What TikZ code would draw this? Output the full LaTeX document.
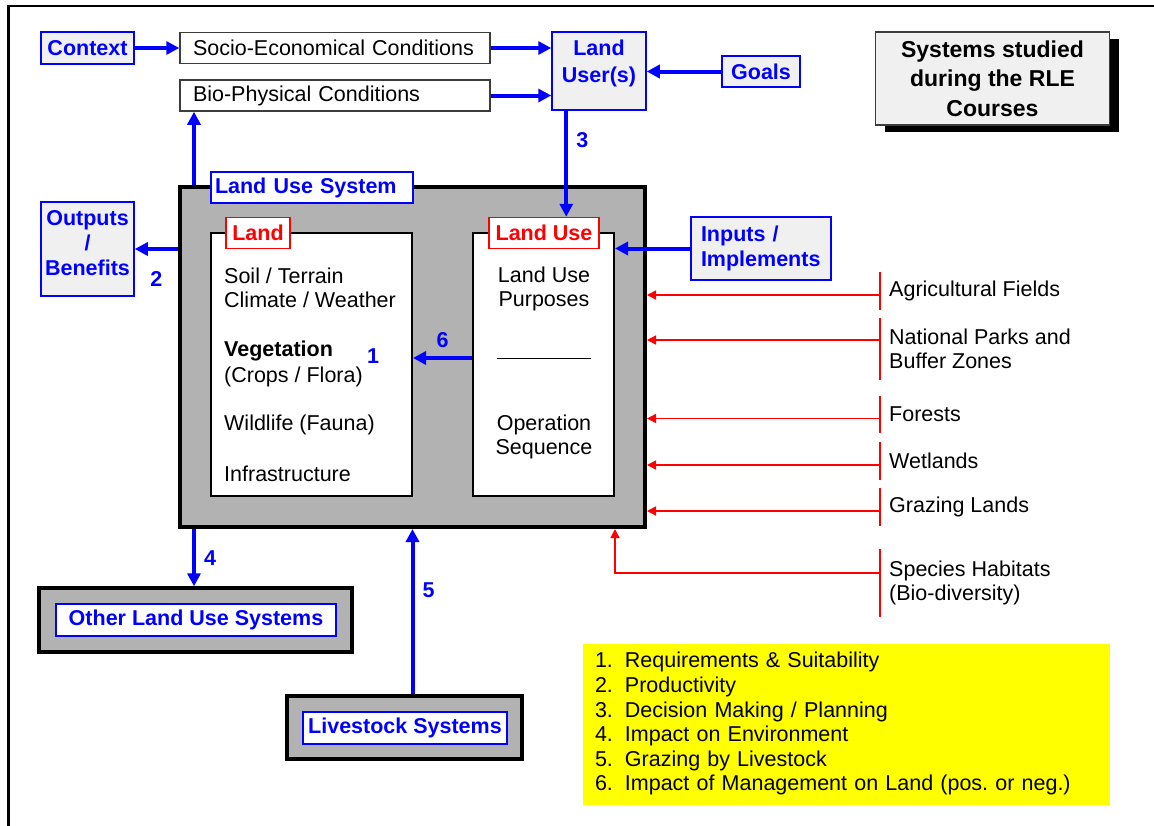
\documentclass[tikz,border=0pt]{standalone}
\usepackage{fontspec}
\setmainfont{Liberation Sans}
\usetikzlibrary{arrows.meta,positioning,shadows}
\definecolor{blue}{RGB}{0,0,255}
\definecolor{red}{RGB}{255,0,0}
\definecolor{yellow}{RGB}{255,255,0}
\definecolor{panel}{RGB}{240,240,240}
\definecolor{lusgray}{RGB}{178,178,178}
\definecolor{edgegray}{RGB}{60,60,60}

\begin{document}
\begin{tikzpicture}[x=1pt, y=-1pt, every node/.style={font=\fontsize{21.5}{24}\selectfont, inner sep=0pt},
  bluebox/.style={draw=blue, fill=panel, line width=1.5pt, text=blue, align=center, font=\fontsize{21.5}{25}\selectfont\bfseries},
  condbox/.style={draw=edgegray, fill=white, line width=1.5pt, minimum height=31pt, text width=284pt, inner xsep=13pt, align=left},
  sysbox/.style={draw=edgegray, fill=panel, line width=1.5pt, minimum width=234pt, minimum height=93pt, align=center, font=\fontsize{23}{29.5}\selectfont\bfseries, drop shadow={shadow xshift=9pt, shadow yshift=-7pt, fill=black, opacity=1}},
  lusframe/.style={draw=black, fill=lusgray, line width=4pt},
  whitebox/.style={draw=black, fill=white, line width=2pt},
  bluetag/.style={draw=blue, fill=white, line width=1.5pt, minimum height=32pt, text=blue, font=\fontsize{21.5}{24}\selectfont\bfseries},
  redtag/.style={draw=red, fill=white, line width=1.5pt, minimum height=31pt, text=red, font=\fontsize{21.5}{24}\selectfont\bfseries},
  num/.style={text=blue, font=\fontsize{21.5}{24}\selectfont\bfseries},
  cat/.style={anchor=west, align=left, inner xsep=9pt},
  bluearrow/.style={draw=blue, line width=4pt, -{Triangle[length=13pt, width=13pt]}},
  redarrow/.style={draw=red, line width=1.4pt, -{Triangle[length=9pt, width=9pt]}},
  redline/.style={draw=red, line width=1.4pt}]
\useasboundingbox (0,0) rectangle (1154,825);
% slide border
\draw[line width=2.5pt] (8.5,840) -- (8.5,6) -- (1170,6);

% top row
\node[bluebox, minimum width=93pt, minimum height=32pt] (context) at (87.5,48) {Context};
\node[condbox] (socio) at (335,48) {Socio-Economical Conditions};
\node[condbox] (bio) [below=15pt of socio] {Bio-Physical Conditions};
\node[bluebox, minimum width=94pt, minimum height=78pt, font=\fontsize{21.5}{27}\selectfont\bfseries] (user) at (599,71) {\begin{tabular}{@{}c@{}}Land\\User(s)\\[14pt]\end{tabular}};
\node[bluebox, minimum width=78pt, minimum height=31pt] (goals) at (761,71.5) {Goals};
\node[sysbox] (systems) at (992.5,78.5) {Systems studied\\during the RLE\\Courses};

% land use system
\node[lusframe, minimum width=465pt, minimum height=340pt] (lus) at (412.5,357) {};
\node[bluetag, text width=194pt, inner xsep=4pt, minimum height=31pt, align=left] (lustag) at (312,187.5) {Land Use System};
\node[bluebox, minimum width=93pt, minimum height=94pt] (outputs) at (87.5,249) {\begin{tabular}{@{}c@{}}Outputs\\/\\Benefits\\[8pt]\end{tabular}};
\node[bluebox, minimum width=140pt, minimum height=63pt, text width=120pt, align=left] (inputs) at (761,248.5) {Inputs /\\Implements};

\node[whitebox, minimum width=201pt, minimum height=263pt] (land) at (311.5,364.5) {};
\node[whitebox, minimum width=141pt, minimum height=263pt] (landuse) at (543.5,364.5) {};
\node[redtag, minimum width=64pt] (landtag) at (258,233) {Land};
\node[redtag, minimum width=110pt] (landusetag) at (544,233) {Land Use};

\node[anchor=west, align=left] (soil) at (224,288) {Soil / Terrain\\Climate / Weather};
\node[anchor=west, align=left, font=\fontsize{21.5}{25.5}\selectfont] (veg) at (224,364) {\textbf{Vegetation}\\(Crops / Flora)};
\node[anchor=west] (fauna) at (224,425) {Wildlife (Fauna)};
\node[anchor=west] (infra) at (224,474) {Infrastructure};
\node[align=center] (purp) at (544,288.5) {Land Use\\Purposes};
\node (sep) at (544,358) {\rule{94pt}{1pt}};
\node[align=center] (oper) at (544,436.5) {Operation\\Sequence};
\node[num] (n1) at (373,356) {1};

% other systems
\node[lusframe, line width=3.5pt, minimum width=313pt, minimum height=64pt] (other) at (195.5,620) {};
\node[bluetag, minimum width=280pt] (othertag) at (196,620) {Other Land Use Systems};
\node[lusframe, line width=3.5pt, minimum width=235pt, minimum height=63pt] (stock) at (404.5,727.5) {};
\node[bluetag, minimum width=204pt] (stocktag) at (405,728) {Livestock Systems};

% land use categories
\node[cat, minimum height=38pt] (agri) at (880,291) {Agricultural Fields};
\node[cat, minimum height=62pt] (parks) at (880,349) {National Parks and\\Buffer Zones};
\node[cat, minimum height=37pt] (forest) at (880,414.5) {Forests};
\node[cat, minimum height=38pt] (wet) at (880,461) {Wetlands};
\node[cat, minimum height=38pt] (graze) at (880,507) {Grazing Lands};
\node[cat, minimum height=68pt] (habitat) at (880,583) {Species Habitats\\(Bio-diversity)};
\draw[redline] (agri.north west) -- (agri.south west);
\draw[redline] (parks.north west) -- (parks.south west);
\draw[redline] (forest.north west) -- (forest.south west);
\draw[redline] (wet.north west) -- (wet.south west);
\draw[redline] (graze.north west) -- (graze.south west);
\draw[redline] (habitat.north west) -- (habitat.south west);

% legend
\node[fill=yellow, minimum width=527pt, minimum height=161pt, text width=503pt, inner xsep=12pt, align=left, font=\fontsize{21.5}{24.6}\selectfont] (legend) at (846.5,724.5) {%
\begin{tabular}{@{}l@{\hspace{12pt}}l@{}}
1. & Requirements \& Suitability\\
2. & Productivity\\
3. & Decision Making / Planning\\
4. & Impact on Environment\\
5. & Grazing by Livestock\\
6. & Impact of Management on Land (pos.\ or neg.)
\end{tabular}};

% blue connectors
\draw[bluearrow] (context) -- (socio);
\draw[bluearrow] (socio.east) -- (socio.east -| user.west);
\draw[bluearrow] (bio.east) -- (bio.east -| user.west);
\draw[bluearrow] (goals.west) -- (goals.west -| user.east);
\draw[bluearrow] ([xshift=15pt]user.south west) -- ([xshift=15pt]user.south west |- landusetag.north) node[num, pos=0.28, right=8pt] {3};
\draw[bluearrow] ([xshift=16pt]lus.north west) -- ([xshift=16pt]lus.north west |- bio.south);
\draw[bluearrow] (outputs.east -| lus.west) -- (outputs.east) node[num, midway, below=20pt] {2};
\draw[bluearrow] (inputs.west) -- (inputs.west -| landuse.east);
\draw[bluearrow] (sep -| landuse.west) -- (sep -| land.east) node[num, midway, above=8pt] {6};
\draw[bluearrow] ([xshift=16pt]lus.south west) -- ([xshift=16pt]lus.south west |- other.north) node[num, midway, right=8pt] {4};
\draw[bluearrow] (lus.south |- stock.north) -- (lus.south) node[num, pos=0.63, right=8pt] {5};

% red connectors
\draw[redarrow] ([yshift=-4pt]agri.west) -- ([yshift=-4pt]agri.west -| lus.east);
\draw[redarrow] ([yshift=9pt]parks.west) -- ([yshift=9pt]parks.west -| lus.east);
\draw[redarrow] ([yshift=-4pt]forest.west) -- ([yshift=-4pt]forest.west -| lus.east);
\draw[redarrow] ([yshift=-4pt]wet.west) -- ([yshift=-4pt]wet.west -| lus.east);
\draw[redarrow] ([yshift=-4pt]graze.west) -- ([yshift=-4pt]graze.west -| lus.east);
\draw[redarrow] ([yshift=10pt]habitat.west) -| ([xshift=-32pt]lus.south east);
\end{tikzpicture}
\end{document}
